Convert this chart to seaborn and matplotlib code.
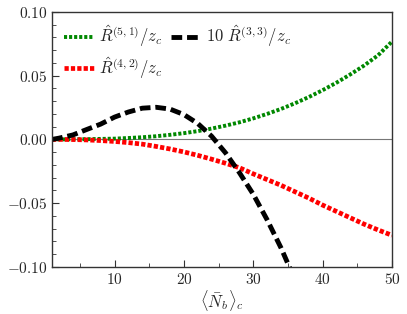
import numpy as np
import pandas as pd
import matplotlib
matplotlib.use("Agg")
import matplotlib.pyplot as plt
import seaborn as sns
from matplotlib.ticker import MultipleLocator, FuncFormatter

# valores
nb = [1, 2, 4, 6, 8, 10, 12, 14, 16, 18, 20, 22, 24, 26, 28, 30, 32, 34, 36, 38, 40, 42, 44, 46, 48, 50]
r51 = [0.0, 0.0, 0.0001, 0.0002, 0.0004, 0.0006, 0.0011, 0.0017, 0.0025, 0.0036, 0.0049,
       0.0065, 0.0085, 0.0108, 0.0134, 0.0165, 0.0200, 0.0239, 0.0283, 0.0332, 0.0386,
       0.0445, 0.0510, 0.0580, 0.0660, 0.0767]
r42 = [0.0, 0.0, -0.0001, -0.0004, -0.0009, -0.0016, -0.0025, -0.0037, -0.0055, -0.0075,
       -0.0098, -0.0125, -0.0155, -0.0187, -0.0222, -0.0270, -0.0315, -0.0360, -0.0410,
       -0.0460, -0.0515, -0.0565, -0.0615, -0.0665, -0.0710, -0.0752]
nb33 = [1, 2, 4, 6, 8, 10, 12, 14, 16, 18, 20, 22, 24, 26, 28, 30, 32, 34, 36]
r33 = [0.0, 0.001, 0.0035, 0.0078, 0.012, 0.0175, 0.0215, 0.0245, 0.0252, 0.0238,
       0.0195, 0.0125, 0.0025, -0.0105, -0.026, -0.043, -0.063, -0.085, -0.110]

df51 = pd.DataFrame({"nb": nb, "val": r51})
df42 = pd.DataFrame({"nb": nb, "val": r42})
df33 = pd.DataFrame({"nb": nb33, "val": r33})

sns.set_style("ticks")
plt.rcParams["font.family"] = ["DejaVu Serif"]
plt.rcParams["mathtext.fontset"] = "cm"

fig = plt.figure(figsize=(4.07, 3.14), dpi=100)
ax = fig.add_axes([0.128, 0.150, 0.835, 0.812])

ax.axhline(0, color="#777777", lw=0.8, zorder=1)

sns.lineplot(data=df51, x="nb", y="val", ax=ax, color="#008800", lw=2.8,
             linestyle=(0, (0.8, 0.5)), label=r"$\hat{R}^{(5,1)}/z_c$")
sns.lineplot(data=df42, x="nb", y="val", ax=ax, color="#ff0000", lw=3.4,
             linestyle=(0, (0.9, 0.45)), label=r"$\hat{R}^{(4,2)}/z_c$")
sns.lineplot(data=df33, x="nb", y="val", ax=ax, color="black", lw=3.5,
             linestyle=(0, (2.2, 1.0)), label=r"$10\ \hat{R}^{(3,3)}/z_c$")

ax.set_xlim(1, 50)
ax.set_ylim(-0.10, 0.10)
ax.xaxis.set_major_locator(MultipleLocator(10))
ax.xaxis.set_minor_locator(MultipleLocator(5))
ax.yaxis.set_major_locator(MultipleLocator(0.05))
ax.yaxis.set_minor_locator(MultipleLocator(0.01))
ax.xaxis.set_major_formatter(FuncFormatter(lambda v, p: rf"${v:.0f}$"))
ax.yaxis.set_major_formatter(FuncFormatter(lambda v, p: rf"${v:.2f}$"))
ax.tick_params(which="both", direction="in", labelsize=11, color="#333333")
ax.tick_params(which="major", length=5)
ax.tick_params(which="minor", length=3)
for s in ax.spines.values():
    s.set_color("#333333")
    s.set_linewidth(1.0)

ax.set_xlabel(r"$\langle \bar{N}_b \rangle_c$", fontsize=12, labelpad=1)
ax.set_ylabel("")

ax.legend(loc="upper left", ncol=2, frameon=False, fontsize=12, handlelength=1.8,
          handletextpad=0.3, columnspacing=0.5, borderaxespad=0.3, labelspacing=0.35)

plt.savefig("out.png", dpi=100)
plt.close()
